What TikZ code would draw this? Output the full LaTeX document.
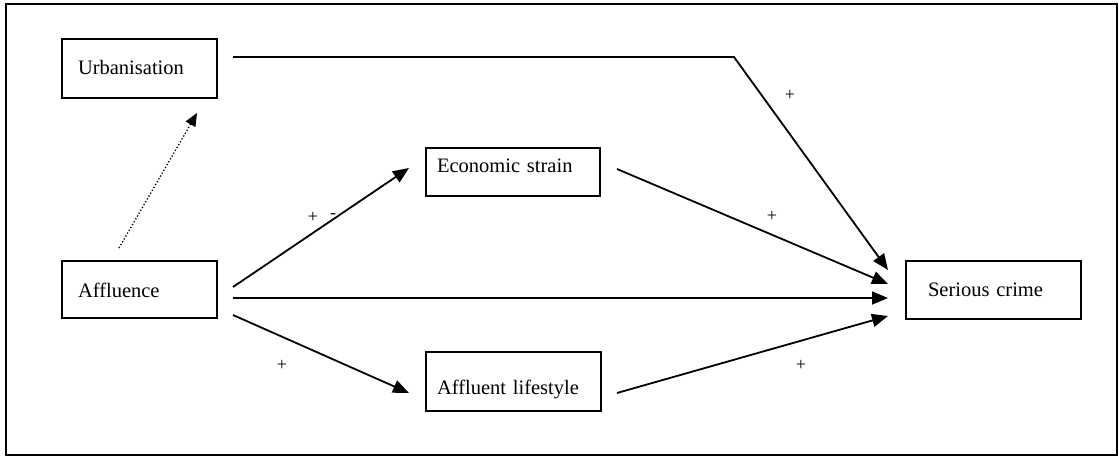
\documentclass[tikz,border=0pt]{standalone}
\usepackage{fontspec}
\setmainfont{Liberation Serif}
\usetikzlibrary{arrows.meta}
\begin{document}
\begin{tikzpicture}[x=1pt,y=-1pt,
  box/.style={draw,line width=1.4pt,align=left,font=\fontsize{20.5}{24}\selectfont,
    inner ysep=0pt,text depth=4pt},
  link/.style={line width=1.8pt,-{Triangle[length=16pt,width=13pt]}},
  weak/.style={line width=1.3pt,dotted,-{Triangle[length=13pt,width=11pt]}},
  sign/.style={font=\fontsize{18}{20}\selectfont,inner sep=0pt}]
\useasboundingbox (0,0) rectangle (1119,457);
\draw[line width=1.8pt] (6,4) rectangle (1117,455);

% variables
\node[box,minimum height=59pt,inner xsep=16pt,text width=123pt,text height=17pt] (urb) at (139.5,68.5) {Urbanisation};
\node[box,minimum height=57pt,inner xsep=16pt,text width=123pt,text height=19pt] (aff) at (139.5,289.5) {Affluence};
\node[box,minimum height=48pt,inner xsep=11pt,text width=152pt,text height=14pt,text depth=12pt] (econ) at (513,172) {Economic strain};
\node[box,minimum height=59pt,inner xsep=11pt,text width=153pt,text height=29pt] (life) at (513.5,381.5) {Affluent lifestyle};
\node[box,minimum height=58pt,inner xsep=22pt,text width=131pt,text height=16pt] (crime) at (993.5,290) {Serious crime};

% connector end points (arrows stop short of the boxes)
\coordinate (u0) at (233,57);
\coordinate (ubend) at (734,57);
\coordinate (u1) at (888,270);
\coordinate (e0) at (617,169);
\coordinate (e1) at (888,284);
\coordinate (a0) at (233,298);
\coordinate (a1) at (888,298);
\coordinate (l0) at (617,393);
\coordinate (l1) at (888,316);
\coordinate (ae0) at (233,287);
\coordinate (ae1) at (409,168);
\coordinate (al0) at (233,315);
\coordinate (al1) at (409,393);
\coordinate (au0) at (119,248);
\coordinate (au1) at (197,113);

\draw[link] (u0) -- (ubend) -- (u1);
\draw[link] (e0) -- (e1);
\draw[link] (a0) -- (a1);
\draw[link] (l0) -- (l1);
\draw[link] (ae0) -- (ae1);
\draw[link] (al0) -- (al1);
\draw[weak] (au0) -- (au1);

% signs of the effects
\node[sign] (s1) at (790,95) {+};
\node[sign] (s2) at (772,216) {+};
\node[sign] (s3) at (313,217) {+};
\node[sign] (s4) at (333,216) {-};
\node[sign] (s5) at (282,365) {+};
\node[sign] (s6) at (801,365) {+};
\end{tikzpicture}
\end{document}
